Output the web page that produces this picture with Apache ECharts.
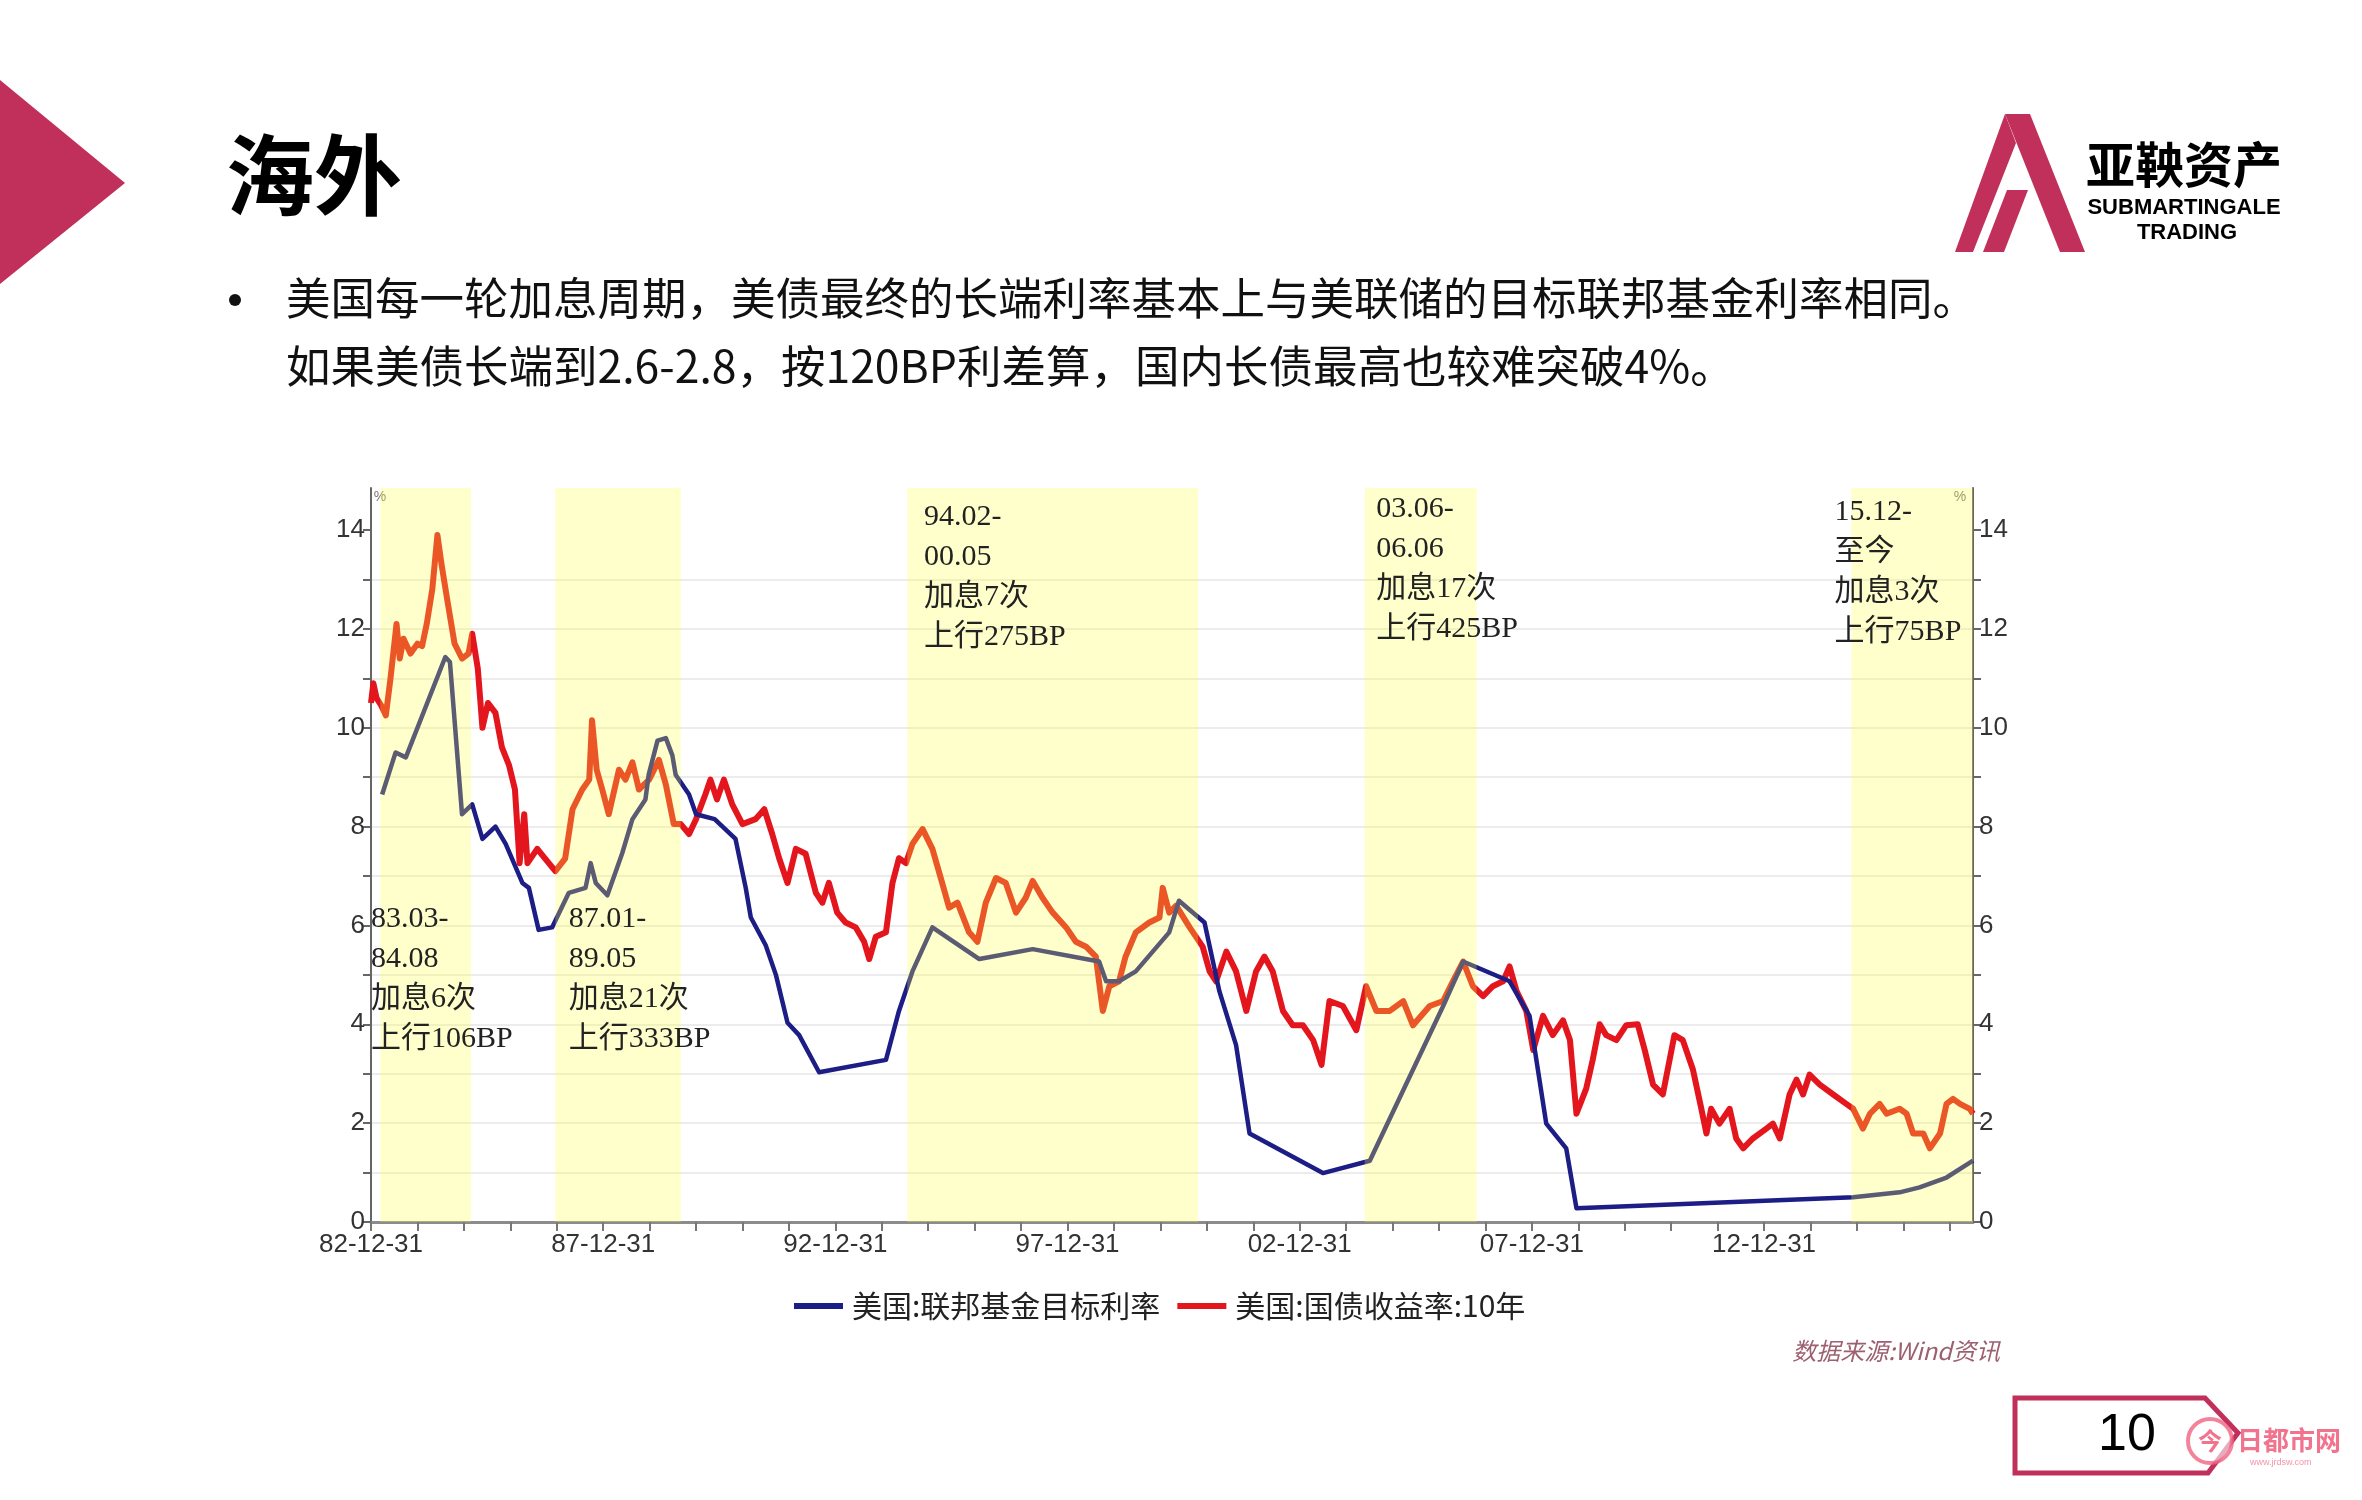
<!DOCTYPE html>
<html><head><meta charset="utf-8">
<script src="https://cdn.jsdelivr.net/npm/echarts@6/dist/echarts.min.js"></script>
<style>html,body{margin:0;padding:0;background:#fff;}#main{width:2362px;height:1500px;}</style>
</head><body><div id="main"></div>
<script>
// ---------------- DATA ----------------
const seriesNames = ['美国:联邦基金目标利率', '美国:国债收益率:10年'];

// US 10Y treasury yield (decimal year, %)
const yieldYears = [1983.00,1983.05,1983.12,1983.22,1983.32,1983.42,1983.55,1983.62,1983.70,1983.85,
1984.00,1984.10,1984.20,1984.32,1984.43,1984.52,1984.64,1984.80,1984.96,1985.10,1985.18,1985.30,1985.40,1985.52,1985.68,1985.82,1985.97,
1986.10,1986.20,1986.30,1986.37,1986.58,1986.75,1986.97,1987.18,1987.34,1987.55,1987.70,1987.76,1987.86,1987.98,
1988.12,1988.34,1988.48,1988.63,1988.77,1988.99,1989.20,1989.35,1989.52,1989.67,1989.85,1990.00,1990.20,1990.31,1990.45,1990.60,1990.78,
1991.00,1991.28,1991.47,1991.64,1991.79,1991.97,1992.15,1992.36,1992.58,1992.72,1992.86,1993.04,1993.22,1993.44,1993.62,1993.73,1993.87,
1994.09,1994.23,1994.37,1994.52,1994.66,1994.88,1995.09,1995.30,1995.45,1995.63,1995.88,1996.06,1996.24,1996.46,1996.67,1996.89,
1997.10,1997.25,1997.46,1997.68,1997.97,1998.18,1998.40,1998.61,1998.76,1998.90,1999.11,1999.25,1999.47,1999.76,1999.98,
2000.05,2000.19,2000.34,2000.63,2000.91,2001.06,2001.20,2001.42,2001.63,2001.85,2002.06,2002.24,2002.42,2002.64,2002.85,
2003.07,2003.29,2003.47,2003.64,2003.93,2004.22,2004.43,2004.65,2004.94,2005.23,2005.44,2005.80,2006.09,2006.30,2006.52,2006.73,2006.95,
2007.16,2007.38,2007.52,2007.67,2007.88,2008.03,2008.24,2008.45,2008.67,2008.82,2008.96,2009.17,2009.31,2009.46,2009.60,2009.82,
2010.03,2010.28,2010.43,2010.61,2010.82,2011.07,2011.25,2011.47,2011.65,2011.76,2011.86,2012.04,2012.26,2012.40,2012.55,2012.76,
2013.05,2013.19,2013.34,2013.55,2013.70,2013.84,2013.98,2014.20,2014.49,2014.77,2014.92,2015.13,2015.28,2015.49,2015.64,2015.92,
2016.07,2016.21,2016.43,2016.57,2016.79,2016.93,2017.07,2017.22,2017.43,2017.50];
const yieldValues = [10.5,10.9,10.6,10.45,10.25,11.0,12.1,11.4,11.8,11.5,
11.7,11.65,12.1,12.8,13.9,13.3,12.6,11.7,11.4,11.5,11.9,11.2,10.0,10.5,10.3,9.6,9.25,
8.75,7.26,8.25,7.26,7.55,7.35,7.1,7.35,8.35,8.75,8.95,10.15,9.15,8.75,
8.25,9.15,8.95,9.3,8.75,8.95,9.35,8.85,8.05,8.05,7.85,8.15,8.65,8.95,8.55,8.95,8.45,
8.05,8.15,8.35,7.85,7.36,6.86,7.55,7.45,6.66,6.46,6.86,6.26,6.06,5.96,5.67,5.32,5.77,
5.86,6.86,7.36,7.26,7.65,7.95,7.55,6.86,6.36,6.46,5.86,5.67,6.46,6.96,6.86,6.26,
6.56,6.9,6.56,6.26,5.96,5.67,5.57,5.37,4.27,4.77,4.87,5.37,5.86,6.06,6.16,
6.76,6.26,6.4,5.96,5.57,5.07,4.87,5.47,5.07,4.27,5.07,5.37,5.07,4.27,3.98,
3.98,3.68,3.18,4.47,4.37,3.88,4.77,4.27,4.27,4.47,3.98,4.37,4.47,4.87,5.27,4.77,4.57,
4.77,4.87,5.17,4.67,4.27,3.48,4.17,3.78,4.08,3.68,2.19,2.7,3.28,4.0,3.78,3.68,
3.98,4.0,3.48,2.78,2.58,3.78,3.68,3.08,2.29,1.79,2.29,1.99,2.29,1.69,1.49,1.69,
1.89,1.99,1.69,2.58,2.88,2.58,2.98,2.78,2.58,2.39,2.29,1.89,2.19,2.39,2.19,2.29,
2.19,1.79,1.79,1.49,1.79,2.39,2.49,2.39,2.29,2.19];

// US Fed funds target rate (decimal year, %)
const fedYears = [1983.24,1983.53,1983.75,1984.60,1984.70,1984.96,1985.18,1985.40,1985.68,1985.90,
1986.26,1986.40,1986.61,1986.90,1987.26,1987.62,1987.73,1987.84,1988.09,1988.41,1988.63,1988.91,1988.98,
1989.17,1989.35,1989.49,1989.56,1989.85,1990.00,1990.40,1990.85,1991.07,1991.18,1991.50,1991.72,1991.97,1992.22,1992.65,
1994.09,1994.37,1994.66,1995.09,1996.10,1997.25,1998.68,1998.83,1999.11,1999.47,2000.19,2000.40,2000.95,2001.27,2001.63,2001.92,
2003.50,2004.51,2006.09,2006.52,2007.52,2007.95,2008.31,2008.74,2008.96,2014.92,2015.92,2016.35,2016.93,2017.50];
const fedValues = [8.65,9.5,9.4,11.43,11.33,8.25,8.45,7.75,8.0,7.65,
6.86,6.76,5.91,5.96,6.66,6.76,7.26,6.86,6.61,7.46,8.15,8.55,9.05,
9.74,9.79,9.44,9.05,8.65,8.25,8.15,7.75,6.76,6.16,5.6,5.0,4.03,3.78,3.03,
3.28,4.27,5.07,5.96,5.32,5.52,5.27,4.87,4.87,5.07,5.86,6.5,6.06,4.67,3.58,1.79,
0.99,1.24,4.37,5.27,4.87,4.17,1.99,1.49,0.28,0.5,0.6,0.7,0.9,1.24];

// rate-hike cycles (shaded bands)
const bandStarts = [1983.2, 1986.97, 1994.55, 2004.4, 2014.88];
const bandEnds   = [1985.15, 1989.67, 2000.81, 2006.81, 2017.5];

// annotations
const annTexts = ['83.03-\n84.08\n加息6次\n上行106BP','87.01-\n89.05\n加息21次\n上行333BP',
  '94.02-\n00.05\n加息7次\n上行275BP','03.06-\n06.06\n加息17次\n上行425BP','15.12-\n至今\n加息3次\n上行75BP'];
const annYears  = [1983.0, 1987.26, 1994.91, 2004.65, 2014.52];
const annValues = [6.53, 6.53, 14.67, 14.83, 14.77];

// axis ticks / labels
const xLabelValues = [1983,1988,1993,1998,2003,2008,2013];
const yLabelValues = [0,2,4,6,8,10,12,14];
const xTickValues = []; for (let y = 1983; y <= 2017; y++) xTickValues.push(y);
const yTickValues = []; for (let v = 0; v <= 14; v++) yTickValues.push(v);

// ---------------- CHART ----------------
const Y_MAX = 14.85;
const CRIMSON = '#C0305A';
const labelFont = '"Liberation Sans", Arial, sans-serif';
const cjk = '"Noto Sans CJK SC", sans-serif';

const chart = echarts.init(document.getElementById('main'), null, {renderer:'canvas', width:2362, height:1500});

function yAxisCfg(pos) {
  return {
    type:'value', position:pos, min:0, max:Y_MAX, interval:2,
    axisLine:{show:true, lineStyle:{color:'#666', width:2}},
    axisTick:{show:true, length:8, customValues:yTickValues, lineStyle:{color:'#666', width:2}},
    axisLabel:{customValues:yLabelValues, color:'#333', fontSize:26, fontFamily:labelFont, margin:6,
      formatter: v => (Math.abs(v - Math.round(v)) < 1e-6 ? String(Math.round(v)) : '')},
    splitLine:{show: pos === 'left', showMaxLine:false, lineStyle:{color:'#ececec', width:2}}
  };
}

const option = {
  animation:false,
  backgroundColor:'#ffffff',
  grid:{left:371, right:389, top:488, bottom:278},
  xAxis:{
    type:'value', min:1983, max:2017.5,
    axisLine:{show:true, onZero:false, lineStyle:{color:'#8c8c8c', width:3}},
    axisTick:{show:true, length:9, customValues:xTickValues, lineStyle:{color:'#777', width:2}},
    axisLabel:{customValues:xLabelValues, color:'#333', fontSize:26, fontFamily:labelFont, margin:10,
      formatter: v => String(Math.round(v) - 1).slice(2) + '-12-31'},
    splitLine:{show:false}
  },
  yAxis:[yAxisCfg('left'), yAxisCfg('right')],
  legend:{
    data: seriesNames, left:789, top:1286, icon:'rect', itemWidth:49, itemHeight:6, itemGap:17,
    selectedMode:false,
    textStyle:{fontSize:30, color:'#222', fontFamily:cjk, padding:[0,0,0,4]}
  },
  series:[
    {
      name: seriesNames[1], type:'line', z:3, showSymbol:false, symbol:'none',
      data: yieldYears.map((x, i) => [x, yieldValues[i]]),
      lineStyle:{color:'#e3161d', width:6, join:'round'}, itemStyle:{color:'#e3161d'}
    },
    {
      name: seriesNames[0], type:'line', z:4, showSymbol:false, symbol:'none',
      data: fedYears.map((x, i) => [x, fedValues[i]]),
      lineStyle:{color:'#1d1d86', width:4.5, join:'round'}, itemStyle:{color:'#1d1d86'}
    },
    {
      name:'bands', type:'custom', z:10, silent:true,
      data: bandStarts.map((s, i) => [s, bandEnds[i]]),
      encode:{x:[0,1]},
      renderItem:(params, api) => {
        const a = api.coord([api.value(0), Y_MAX]);
        const b = api.coord([api.value(1), 0]);
        return {type:'rect', shape:{x:a[0], y:a[1], width:b[0]-a[0], height:b[1]-a[1]},
          style:{fill:'rgba(255,255,70,0.28)'}};
      }
    },
    {
      name:'notes', type:'custom', z:20, silent:true,
      data: annYears.map((x, i) => [x, annValues[i], i]),
      encode:{x:0, y:1},
      renderItem:(params, api) => {
        const c = api.coord([api.value(0), api.value(1)]);
        return {type:'text', x:c[0], y:c[1], style:{text: annTexts[api.value(2)], fill:'#222',
          fontSize:30, fontFamily:'"Liberation Serif", "Noto Sans CJK SC", serif', lineHeight:40,
          align:'left', verticalAlign:'top'}};
      }
    }
  ],
  graphic:[
    {type:'polygon', shape:{points:[[0,80],[125,183],[0,284]]}, style:{fill:CRIMSON}},
    {type:'text', x:226, y:175, style:{text:'海外', fill:'#000', font:'bold 88px "Noto Sans CJK SC"', textVerticalAlign:'middle'}},
    {type:'circle', shape:{cx:235, cy:300, r:6}, style:{fill:'#111'}},
    {type:'text', x:286, y:298, style:{text:'美国每一轮加息周期，美债最终的长端利率基本上与美联储的目标联邦基金利率相同。', fill:'#111', font:'44.5px "Noto Sans CJK SC"', textVerticalAlign:'middle'}},
    {type:'text', x:286, y:366, style:{text:'如果美债长端到2.6-2.8，按120BP利差算，国内长债最高也较难突破4%。', fill:'#111', font:'44.5px "Noto Sans CJK SC"', textVerticalAlign:'middle'}},
    // logo
    {type:'polygon', shape:{points:[[2005,114],[2030,114],[2085,252],[2060,252]]}, style:{fill:CRIMSON}},
    {type:'polygon', shape:{points:[[2005,114],[2016,143],[1973,252],[1955,252]]}, style:{fill:CRIMSON}},
    {type:'polygon', shape:{points:[[2007,190],[2028,190],[2004,252],[1983,252]]}, style:{fill:CRIMSON}},
    {type:'text', x:2086, y:164, style:{text:'亚鞅资产', fill:'#000', font:'bold 49px "Noto Sans CJK SC"', textVerticalAlign:'middle'}},
    {type:'text', x:2184, y:208, style:{text:'SUBMARTINGALE', fill:'#000', font:'bold 22px "Liberation Sans", Arial', textAlign:'center', textVerticalAlign:'middle'}},
    {type:'text', x:2187, y:233, style:{text:'TRADING', fill:'#000', font:'bold 22px "Liberation Sans", Arial', textAlign:'center', textVerticalAlign:'middle'}},
    // percent marks
    {type:'text', x:380, y:497, style:{text:'%', fill:'#777', font:'14px "Liberation Sans"', textAlign:'center', textVerticalAlign:'middle'}},
    {type:'text', x:1960, y:497, style:{text:'%', fill:'#777', font:'14px "Liberation Sans"', textAlign:'center', textVerticalAlign:'middle'}},
    // source
    {type:'text', x:2000, y:1351, style:{text:'数据来源:Wind资讯', fill:'#9c6070', font:'italic 24px "Noto Sans CJK SC"', textAlign:'right', textVerticalAlign:'middle'}},
    // page number tag
    {type:'polygon', shape:{points:[[2015,1398],[2205,1398],[2238,1433],[2208,1473],[2015,1473]]}, style:{fill:'none', stroke:CRIMSON, lineWidth:5}},
    {type:'text', x:2127, y:1436, style:{text:'10', fill:'#000', font:'52px "Liberation Sans", Arial', textAlign:'center', textVerticalAlign:'middle'}},
    // watermark
    {type:'circle', shape:{cx:2210, cy:1441, r:22}, style:{fill:'rgba(255,255,255,0.6)', stroke:'rgba(240,100,130,0.8)', lineWidth:4}},
    {type:'text', x:2210, y:1441, style:{text:'今', fill:'rgba(240,100,130,0.9)', font:'bold 24px "Noto Sans CJK SC"', textAlign:'center', textVerticalAlign:'middle'}},
    {type:'text', x:2237, y:1440, style:{text:'日都市网', fill:'rgba(240,100,130,0.9)', font:'bold 26px "Noto Sans CJK SC"', textVerticalAlign:'middle'}},
    {type:'text', x:2250, y:1463, style:{text:'www.jrdsw.com', fill:'rgba(240,100,130,0.7)', font:'9px "Liberation Sans"', textVerticalAlign:'middle'}}
  ]
};
chart.setOption(option);
</script>
</body></html>
